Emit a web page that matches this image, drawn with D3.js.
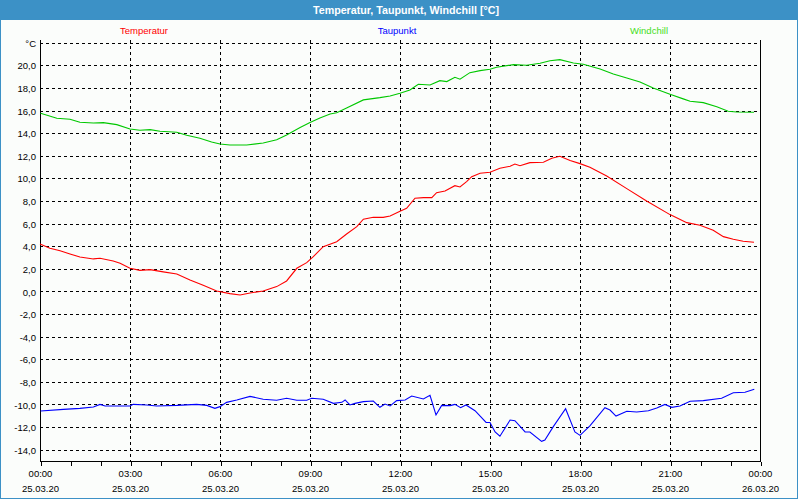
<!DOCTYPE html>
<html><head><meta charset="utf-8">
<script src="https://cdn.jsdelivr.net/npm/d3@7/dist/d3.min.js"></script>
<style>html,body{margin:0;padding:0;background:#fff}svg{display:block}</style>
</head><body>
<script>
const chartTitle = "Temperatur, Taupunkt, Windchill [°C]";
const seriesNames = ["Temperatur", "Taupunkt", "Windchill"];
const xTickHours = [0, 3, 6, 9, 12, 15, 18, 21, 24];
const xTickTimes = ["00:00","03:00","06:00","09:00","12:00","15:00","18:00","21:00","00:00"];
const xTickDates = ["25.03.20","25.03.20","25.03.20","25.03.20","25.03.20","25.03.20","25.03.20","25.03.20","26.03.20"];
const yTicks = [-14,-12,-10,-8,-6,-4,-2,0,2,4,6,8,10,12,14,16,18,20,22];

const tempHours = [0.0,0.33,0.67,1.0,1.33,1.78,2.0,2.44,2.67,3.0,3.33,3.67,4.11,4.56,5.0,5.44,5.89,6.33,6.67,7.0,7.44,7.89,8.22,8.56,8.89,9.11,9.44,9.89,10.22,10.56,10.78,11.11,11.44,11.67,12.0,12.22,12.5,12.78,13.06,13.22,13.5,13.83,14.0,14.22,14.39,14.67,15.0,15.33,15.67,15.83,16.0,16.33,16.78,17.06,17.33,17.67,18.0,18.33,18.89,19.56,20.22,21.0,21.56,22.0,22.44,22.78,23.11,23.44,23.8];
const tempValues = [4.2,3.82,3.61,3.32,3.05,2.88,2.94,2.7,2.49,2.05,1.87,1.93,1.73,1.55,1.02,0.55,0.04,-0.19,-0.31,-0.13,0.04,0.43,0.93,2.05,2.55,3.08,3.96,4.4,5.09,5.73,6.39,6.56,6.56,6.68,7.1,7.36,8.25,8.3,8.3,8.74,8.89,9.36,9.25,9.72,10.16,10.46,10.55,10.9,11.08,11.28,11.13,11.4,11.43,11.79,11.96,11.58,11.31,10.99,10.22,9.1,8.0,6.8,6.09,5.86,5.42,4.85,4.62,4.44,4.35];

const dewHours = [0.02,0.78,1.33,1.78,2.0,2.17,3.0,3.11,3.56,3.89,4.56,5.22,5.56,5.83,6.0,6.22,6.56,7.0,7.44,7.89,8.22,8.56,8.89,9.06,9.44,9.78,10.06,10.17,10.33,10.5,10.78,11.11,11.33,11.5,11.67,11.89,12.17,12.39,12.78,13.0,13.2,13.39,13.67,13.83,14.02,14.2,14.5,14.87,15.0,15.17,15.33,15.67,15.83,16.17,16.33,16.72,16.83,17.11,17.52,17.83,18.0,18.33,18.83,19.0,19.2,19.56,19.89,20.28,20.56,20.83,21.06,21.33,21.67,22.11,22.72,23.11,23.5,23.81];
const dewValues = [-10.58,-10.43,-10.34,-10.22,-9.99,-10.13,-10.13,-9.99,-10.04,-10.13,-10.08,-9.99,-10.08,-10.34,-10.19,-9.81,-9.6,-9.28,-9.54,-9.63,-9.45,-9.63,-9.63,-9.45,-9.54,-9.9,-9.81,-9.6,-10.04,-9.9,-9.75,-9.69,-10.25,-9.96,-10.13,-9.66,-9.6,-9.25,-9.51,-9.19,-10.93,-10.08,-10.1,-9.99,-10.28,-10.04,-10.55,-11.58,-11.6,-12.43,-12.81,-11.37,-11.43,-12.43,-12.43,-13.26,-13.14,-11.96,-10.37,-12.43,-12.73,-11.9,-10.28,-10.49,-11.02,-10.6,-10.66,-10.55,-10.31,-9.99,-10.25,-10.13,-9.72,-9.66,-9.45,-8.96,-8.92,-8.66];

const chillHours = [0.02,0.56,1.0,1.33,1.78,2.11,2.56,3.0,3.33,3.67,4.0,4.56,4.89,5.33,5.72,6.0,6.33,6.89,7.44,7.89,8.22,8.67,9.0,9.33,9.67,9.89,10.22,10.78,11.33,11.67,12.0,12.33,12.61,13.0,13.33,13.56,13.83,14.0,14.33,14.67,15.0,15.22,15.78,16.22,16.67,17.0,17.33,17.78,18.11,18.67,19.11,19.56,20.0,20.44,21.0,21.44,21.67,22.11,22.56,22.94,23.22,23.8];
const chillValues = [15.77,15.33,15.24,14.97,14.91,14.94,14.76,14.38,14.26,14.32,14.18,14.09,13.82,13.56,13.23,13.05,12.96,12.96,13.14,13.43,13.85,14.5,14.94,15.35,15.7,15.82,16.24,16.95,17.15,17.3,17.54,17.83,18.33,18.27,18.65,18.57,18.95,18.78,19.36,19.54,19.66,19.84,20.07,20.02,20.19,20.42,20.51,20.22,20.1,19.69,19.25,18.89,18.54,18.0,17.45,17.04,16.83,16.71,16.35,15.95,15.88,15.86];

const W = 800, H = 500;
const FONT = "'Liberation Sans', Arial, sans-serif";
const svg = d3.select("body").append("svg").attr("width", W).attr("height", H)
  .style("font-family", FONT);

svg.append("rect").attr("x",0).attr("y",0).attr("width",W).attr("height",H).attr("fill","#ffffff");
svg.append("rect").attr("x",0).attr("y",0).attr("width",798).attr("height",499).attr("fill","#fbfdfb");
// frame
svg.append("rect").attr("x",0).attr("y",0).attr("width",1).attr("height",499).attr("fill","#3c91c6");
svg.append("rect").attr("x",797).attr("y",0).attr("width",1).attr("height",499).attr("fill","#3c91c6");
svg.append("rect").attr("x",0).attr("y",498).attr("width",798).attr("height",1).attr("fill","#3c91c6");
// title bar
svg.append("rect").attr("x",0).attr("y",0).attr("width",798).attr("height",20).attr("fill","#3c91c6");
svg.append("text").attr("x",406).attr("y",13.5).attr("text-anchor","middle")
  .attr("fill","#ffffff").attr("font-weight","bold").attr("font-size","10.7px").text(chartTitle);

const x = d3.scaleLinear().domain([0,24]).range([40,760]);
const y = d3.scaleLinear().domain([-15,22.25]).range([461,40]);

// legend
const legendX = [144, 397, 649];
const colors = ["#ff0000","#0000ff","#00c800"];
const legendColors = ["#ff0000","#0000ff","#44dd1a"];
seriesNames.forEach((n,i)=>{
  svg.append("text").attr("x",legendX[i]).attr("y",33.5).attr("text-anchor","middle")
    .attr("font-size","9.5px").attr("fill",legendColors[i]).text(n);
});

// grid
const grid = svg.append("g").attr("stroke","#000").attr("stroke-width",1)
  .attr("stroke-dasharray","3,3").attr("shape-rendering","crispEdges");
grid.selectAll("line.h").data(yTicks).join("line").attr("class","h")
  .attr("x1",40).attr("x2",760).attr("y1",d=>Math.round(y(d))+0.5).attr("y2",d=>Math.round(y(d))+0.5);
grid.selectAll("line.v").data(xTickHours.slice(1,-1)).join("line").attr("class","v")
  .attr("x1",d=>x(d)+0.5).attr("x2",d=>x(d)+0.5).attr("y1",40).attr("y2",461);

// axes
const xAxis = d3.axisBottom(x).tickValues(d3.range(0,25)).tickSize(4).tickFormat("");
const gx = svg.append("g").attr("transform","translate(0.5,461.5)").call(xAxis);
gx.select(".domain").remove();
gx.selectAll("line").attr("stroke","#000").attr("shape-rendering","crispEdges");

const yAxis = d3.axisLeft(y).tickValues(yTicks).tickSize(0).tickPadding(4)
  .tickFormat(d => d === 22 ? "°C" : d.toFixed(1).replace(".", ","));
const gy = svg.append("g").attr("transform","translate(40,0.5)").call(yAxis);
gy.select(".domain").remove();
gy.selectAll("text").attr("font-size","9.5px").attr("font-family",FONT).attr("fill","#000");

// plot border (left, bottom, right)
svg.append("path").attr("d","M40.5,40V461.5H760.5V40").attr("fill","none").attr("stroke","#000")
  .attr("shape-rendering","crispEdges");

// x labels
const xl = svg.append("g").attr("font-size","9.5px").attr("text-anchor","middle").attr("fill","#000");
xTickHours.forEach((h,i)=>{
  xl.append("text").attr("x",x(h)+0.5).attr("y",477).text(xTickTimes[i]);
  xl.append("text").attr("x",x(h)+0.5).attr("y",491.5).text(xTickDates[i]);
});

// lines
const line = d3.line().x(d=>x(d[0])).y(d=>y(d[1]));
const series = [
  d3.zip(tempHours, tempValues),
  d3.zip(dewHours, dewValues),
  d3.zip(chillHours, chillValues)
];
const order = [2,0,1];
order.forEach(i=>{
  svg.append("path").datum(series[i]).attr("d",line).attr("fill","none")
    .attr("stroke",colors[i]).attr("stroke-width",1.1);
});
</script>
</body></html>
